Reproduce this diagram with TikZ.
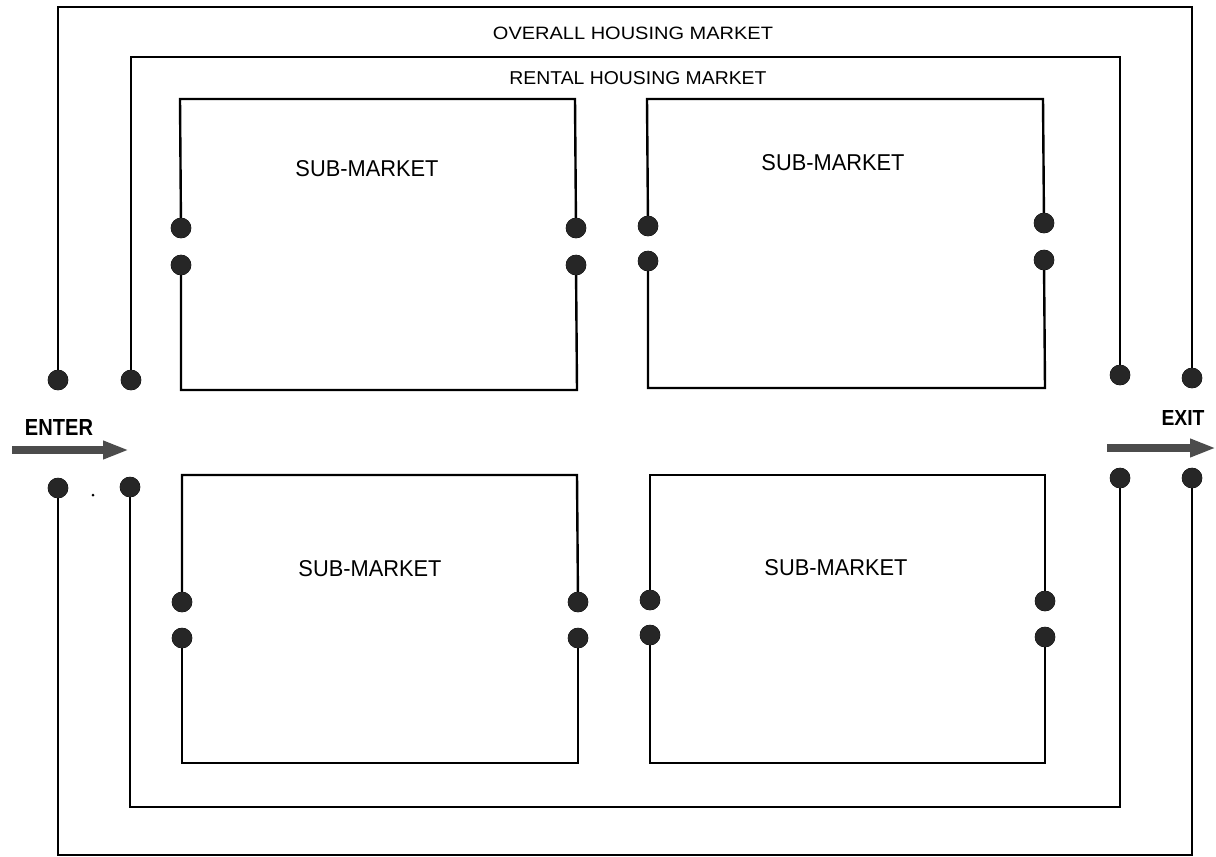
\documentclass[tikz,border=0pt]{standalone}
\usepackage{fontspec}
\setmainfont{Liberation Sans}
\usetikzlibrary{arrows.meta}
\tikzset{
  frame/.style={line width=2.4pt, black, line join=miter},
  pin/.style={circle, fill=black!85, draw=black, line width=0.6pt, inner sep=0pt, minimum size=20pt},
  speck/.style={circle, fill=black, inner sep=0pt, minimum size=3pt},
  lbl/.style={inner sep=0pt, anchor=center},
  flow/.style={line width=8pt, draw=black!70, -{Triangle[length=26pt,width=17pt,fill=black!70]}},
}
\newcommand{\fitword}[3]{\resizebox{#1pt}{#2pt}{#3}}
\begin{document}
\begin{tikzpicture}[x=1pt,y=-1pt]
\useasboundingbox (0,0) rectangle (1216,857);

% ---- pins (dots)
\node[pin] (oTL) at (58,380) {};
\node[pin] (oBL) at (58,488) {};
\node[pin] (oTR) at (1192,378) {};
\node[pin] (oBR) at (1192,478) {};
\node[pin] (rTL) at (131,380) {};
\node[pin] (rBL) at (130,487) {};
\node[pin] (rTR) at (1120,375) {};
\node[pin] (rBR) at (1120,478) {};
% box A
\node[pin] (aL1) at (181,228) {};
\node[pin] (aL2) at (181,265) {};
\node[pin] (aR1) at (576,228) {};
\node[pin] (aR2) at (576,265) {};
% box B
\node[pin] (bL1) at (648,226) {};
\node[pin] (bL2) at (648,261) {};
\node[pin] (bR1) at (1044,223) {};
\node[pin] (bR2) at (1044,260) {};
% box C
\node[pin] (cL1) at (182,602) {};
\node[pin] (cL2) at (182,638) {};
\node[pin] (cR1) at (578,602) {};
\node[pin] (cR2) at (578,638) {};
% box D
\node[pin] (dL1) at (650,600) {};
\node[pin] (dL2) at (650,635) {};
\node[pin] (dR1) at (1045,601) {};
\node[pin] (dR2) at (1045,637) {};
\node[speck] (spk) at (93,495) {};

% ---- corner coordinates
\coordinate (oT1) at (58,7);   \coordinate (oT2) at (1192,7);
\coordinate (oB1) at (58,855); \coordinate (oB2) at (1192,855);
\coordinate (rT1) at (131,57); \coordinate (rT2) at (1120,57);
\coordinate (rB1) at (130,807);\coordinate (rB2) at (1120,807);
\coordinate (aT1) at (180,99); \coordinate (aT2) at (575,99);
\coordinate (aB1) at (181,390);\coordinate (aB2) at (577,390);
\coordinate (bT1) at (647,99); \coordinate (bT2) at (1043,99);
\coordinate (bB1) at (648,388);\coordinate (bB2) at (1045,388);
\coordinate (cT1) at (182,475);\coordinate (cT2) at (577,475);
\coordinate (cB1) at (182,763);\coordinate (cB2) at (578,763);
\coordinate (dT1) at (650,475);\coordinate (dT2) at (1045,475);
\coordinate (dB1) at (650,763);\coordinate (dB2) at (1045,763);

% ---- frames
\draw[frame] (oTL.center) -- (oT1) -- (oT2) -- (oTR.center);
\draw[frame] (oBL.center) -- (oB1) -- (oB2) -- (oBR.center);
\draw[frame] (rTL.center) -- (rT1) -- (rT2) -- (rTR.center);
\draw[frame] (rBL.center) -- (rB1) -- (rB2) -- (rBR.center);
\draw[frame] (aL1.center) -- (aT1) -- (aT2) -- (aR1.center);
\draw[frame] (aL2.center) -- (aB1) -- (aB2) -- (aR2.center);
\draw[frame] (bL1.center) -- (bT1) -- (bT2) -- (bR1.center);
\draw[frame] (bL2.center) -- (bB1) -- (bB2) -- (bR2.center);
\draw[frame] (cL1.center) -- (cT1) -- (cT2) -- (cR1.center);
\draw[frame] (cL2.center) -- (cB1) -- (cB2) -- (cR2.center);
\draw[frame] (dL1.center) -- (dT1) -- (dT2) -- (dR1.center);
\draw[frame] (dL2.center) -- (dB1) -- (dB2) -- (dR2.center);

% redraw pins on top of lines
\foreach \p in {oTL,oBL,oTR,oBR,rTL,rBL,rTR,rBR,aL1,aL2,aR1,aR2,bL1,bL2,bR1,bR2,cL1,cL2,cR1,cR2,dL1,dL2,dR1,dR2}
  \fill[black!85] (\p.center) circle (10pt);

% ---- labels
\node[lbl] (tOver) at (633,33) {\fitword{280}{12.5}{OVERALL HOUSING MARKET}};
\node[lbl] (tRent) at (638,78) {\fitword{257}{13}{RENTAL HOUSING MARKET}};
\node[lbl] (tA) at (367,169) {\fitword{143}{16}{SUB-MARKET}};
\node[lbl] (tB) at (833,163) {\fitword{143}{16}{SUB-MARKET}};
\node[lbl] (tC) at (370,569) {\fitword{143}{16}{SUB-MARKET}};
\node[lbl] (tD) at (836,568) {\fitword{143}{16}{SUB-MARKET}};
\node[lbl] (tEnter) at (59,427) {\fitword{68}{16}{\bfseries ENTER}};
\node[lbl] (tExit) at (1183,418) {\fitword{43}{15}{\bfseries EXIT}};

% ---- flow arrows
\coordinate (enS) at (12,450);  \coordinate (enE) at (129,450);
\coordinate (exS) at (1107,448); \coordinate (exE) at (1216,448);
\draw[flow] (enS) -- (enE);
\draw[flow] (exS) -- (exE);
\end{tikzpicture}
\end{document}
